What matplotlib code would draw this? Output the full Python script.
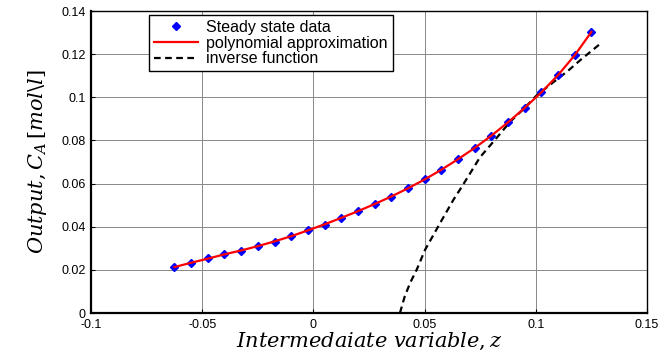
import numpy as np
import matplotlib
matplotlib.use("Agg")
import matplotlib.pyplot as plt

plt.rcParams['font.family'] = ['Liberation Sans', 'DejaVu Sans']
plt.rcParams['mathtext.fontset'] = 'dejavuserif'

# steady state data
z_data = [-0.0625, -0.055, -0.0475, -0.04, -0.0325, -0.025, -0.0175, -0.01,
          -0.0025, 0.005, 0.0125, 0.02, 0.0275, 0.035, 0.0425, 0.05, 0.0575,
          0.065, 0.0725, 0.08, 0.0875, 0.095, 0.1025, 0.11, 0.1175, 0.125]
ca_data = [0.0214, 0.0234, 0.0253, 0.0273, 0.0288, 0.0311, 0.0331, 0.0357,
           0.0385, 0.0410, 0.0442, 0.0471, 0.0505, 0.0539, 0.0578, 0.0619,
           0.0665, 0.0714, 0.0765, 0.0822, 0.0884, 0.0952, 0.1023, 0.1104,
           0.1195, 0.1303]

# polynomial approximation curve
z_poly = z_data
ca_poly = [0.0213, 0.0233, 0.0252, 0.0272, 0.0290, 0.0310, 0.0332, 0.0356,
           0.0383, 0.0411, 0.0441, 0.0472, 0.0505, 0.0540, 0.0578, 0.0619,
           0.0664, 0.0713, 0.0765, 0.0822, 0.0884, 0.0951, 0.1023, 0.1103,
           0.1195, 0.1303]

# inverse function curve
z_inv = [0.0389, 0.0410, 0.0435, 0.0464, 0.0502, 0.0569, 0.0629, 0.0667,
         0.0749, 0.0824, 0.0884, 0.0944, 0.1004, 0.1079, 0.1146, 0.1203,
         0.1292]
ca_inv = [0.0, 0.0075, 0.0140, 0.0200, 0.0293, 0.0416, 0.0524, 0.0585,
          0.0722, 0.0812, 0.0886, 0.0945, 0.1009, 0.1070, 0.1124, 0.1175,
          0.1250]

fig = plt.figure(figsize=(6.63, 3.54), dpi=100)
ax = fig.add_axes([0.1373, 0.1158, 0.8386, 0.8531])

ax.plot(z_data, ca_data, 'D', color='blue', markersize=4, label='Steady state data', zorder=3)
ax.plot(z_poly, ca_poly, '-', color='red', linewidth=1.6, label='polynomial approximation', zorder=4)
ax.plot(z_inv, ca_inv, '--', color='black', linewidth=1.6, dashes=(3, 2), label='inverse function', zorder=2)

ax.set_xlim(-0.1, 0.15)
ax.set_ylim(0, 0.14)
ax.set_xticks([-0.1, -0.05, 0, 0.05, 0.1, 0.15])
ax.set_xticklabels(['-0.1', '-0.05', '0', '0.05', '0.1', '0.15'])
ax.set_yticks([0, 0.02, 0.04, 0.06, 0.08, 0.1, 0.12, 0.14])
ax.set_yticklabels(['0', '0.02', '0.04', '0.06', '0.08', '0.1', '0.12', '0.14'])
ax.tick_params(direction='in', labelsize=9, length=3, width=0.8, pad=4)
ax.grid(True, color='#888888', linewidth=0.7)
ax.set_axisbelow(True)
for s in ax.spines.values():
    s.set_linewidth(1.0)
ax.spines['left'].set_linewidth(1.6)
ax.spines['bottom'].set_linewidth(1.6)

ax.set_xlabel(r'$Intermedaiate\ variable, z$', fontsize=15, labelpad=0)
ax.set_ylabel(r'$Output, C_A\,[mol\backslash l]$', fontsize=15, labelpad=9)

leg = ax.legend(loc='upper left', bbox_to_anchor=(0.104, 0.987), fontsize=11.5,
                fancybox=False, edgecolor='black', framealpha=1,
                handlelength=2.8, borderpad=0.3, labelspacing=0.05,
                handletextpad=0.5, borderaxespad=0)
leg.get_frame().set_linewidth(1.0)

fig.savefig('out.png', dpi=100)
